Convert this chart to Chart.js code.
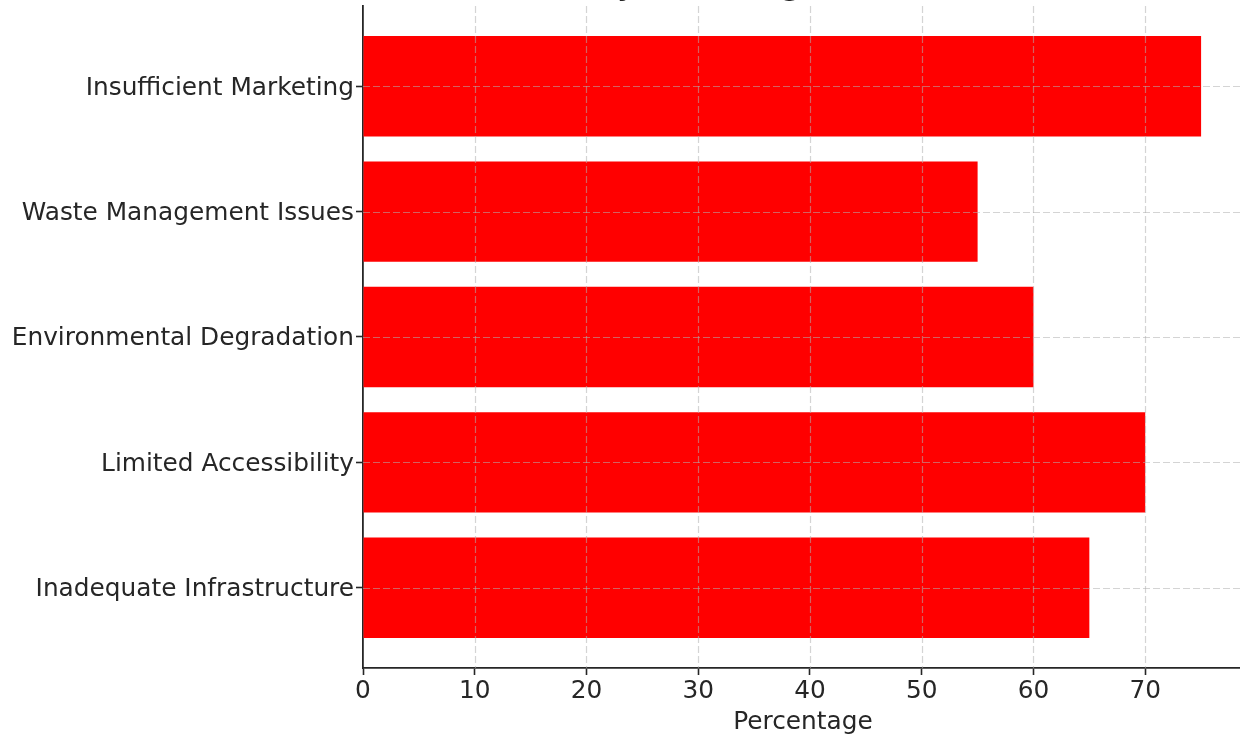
<!DOCTYPE html>
<html>
<head>
<meta charset="utf-8">
<title>Key Challenges in Tourism</title>
<script src="https://cdn.jsdelivr.net/npm/chart.js@4/dist/chart.umd.min.js"></script>
<style>
  html, body { margin: 0; padding: 0; background: #ffffff; overflow: hidden; width: 1240px; height: 740px; }
  #wrap { position: absolute; left: 0; top: -60px; width: 1252px; height: 800px; }
  #chart { display: block; width: 1252px; height: 800px; }
</style>
</head>
<body>
<div id="wrap"><canvas id="chart" width="1252" height="800"></canvas></div>
<script>
// Challenge categories, listed bottom to top
const categories = [
  'Inadequate Infrastructure',
  'Limited Accessibility',
  'Environmental Degradation',
  'Waste Management Issues',
  'Insufficient Marketing'
];
// Share of respondents reporting each challenge (%)
const percentages = [65, 70, 60, 55, 75];
// Percentage axis ticks
const xTicks = [0, 10, 20, 30, 40, 50, 60, 70];

const chartTitle = 'Key Challenges in Tourism';
const xAxisTitle = 'Percentage';

const FONT = "'DejaVu Sans', 'Liberation Sans', sans-serif";
const TEXT = '#262626';
const AXIS = '#262626';

// Dashed grid drawn on top of the bars (skipping lines that sit on the axes)
const overlayGrid = {
  id: 'overlayGrid',
  afterDatasetsDraw(chart) {
    const { ctx, chartArea: a, scales: { x, y } } = chart;
    ctx.save();
    ctx.beginPath();
    ctx.rect(a.left, a.top, a.right - a.left, a.bottom - a.top);
    ctx.clip();
    ctx.strokeStyle = 'rgba(176,176,176,0.55)';
    ctx.lineWidth = 1.2;
    ctx.setLineDash([7, 3]);
    x.ticks.forEach((t) => {
      const px = Math.round(x.getPixelForValue(t.value)) + 0.5;
      if (px - a.left < 2) return;
      ctx.beginPath();
      ctx.moveTo(px, a.top);
      ctx.lineTo(px, a.bottom);
      ctx.stroke();
    });
    y.ticks.forEach((t) => {
      const py = Math.round(y.getPixelForValue(t.value)) + 0.5;
      if (a.bottom - py < 2) return;
      ctx.beginPath();
      ctx.moveTo(a.left, py);
      ctx.lineTo(a.right, py);
      ctx.stroke();
    });
    ctx.restore();
  }
};

new Chart(document.getElementById('chart'), {
  type: 'bar',
  data: {
    datasets: [{
      data: categories.map((c, i) => ({ x: percentages[i], y: i })),
      backgroundColor: '#ff0000',
      borderWidth: 0,
      barPercentage: 0.8,
      categoryPercentage: 1.0
    }]
  },
  options: {
    indexAxis: 'y',
    responsive: false,
    animation: false,
    devicePixelRatio: 1,
    layout: { padding: { left: 0, right: 9, top: 0, bottom: 0 } },
    plugins: {
      legend: { display: false },
      tooltip: { enabled: false },
      title: {
        display: true,
        text: chartTitle,
        fullSize: false,
        color: TEXT,
        font: { family: FONT, size: 35, weight: 'normal', lineHeight: 1.2 },
        padding: { top: 24, bottom: 0 }
      }
    },
    scales: {
      x: {
        type: 'linear',
        position: 'bottom',
        min: 0,
        max: 78.75,
        afterBuildTicks: (s) => { s.ticks = xTicks.map((v) => ({ value: v })); },
        afterFit: (s) => { s.height = 72; },
        ticks: {
          color: TEXT,
          padding: 2,
          font: { family: FONT, size: 24.8 },
          maxRotation: 0
        },
        grid: {
          drawOnChartArea: false,
          drawTicks: true,
          tickLength: 7,
          tickColor: AXIS,
          tickWidth: 1.6,
          tickBorderDash: []
        },
        border: { display: true, color: AXIS, width: 1.8 },
        title: {
          display: true,
          text: xAxisTitle,
          color: TEXT,
          font: { family: FONT, size: 24.8 },
          padding: { top: 5, bottom: 3 }
        }
      },
      y: {
        type: 'linear',
        position: 'left',
        offset: false,
        min: -0.64,
        max: 4.64,
        afterBuildTicks: (s) => { s.ticks = categories.map((c, i) => ({ value: i })); },
        afterFit: (s) => { s.width = 363; },
        ticks: {
          color: TEXT,
          padding: 2,
          labelOffset: 2,
          font: { family: FONT, size: 24.8 },
          callback: (v) => categories[v]
        },
        grid: {
          offset: false,
          drawOnChartArea: false,
          drawTicks: true,
          tickLength: 7,
          tickColor: AXIS,
          tickWidth: 1.6,
          tickBorderDash: []
        },
        border: { display: true, color: AXIS, width: 1.8 }
      }
    }
  },
  plugins: [overlayGrid]
});
</script>
</body>
</html>
